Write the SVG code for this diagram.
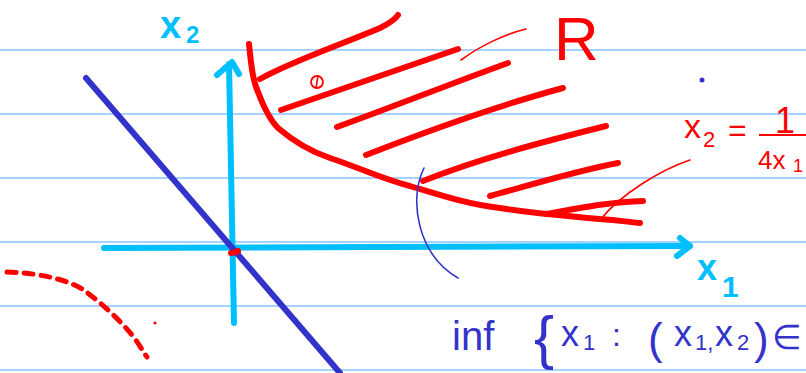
<svg xmlns="http://www.w3.org/2000/svg" width="806" height="373" viewBox="0 0 806 373">
<style>
.rule{stroke:#4da6ff;stroke-width:1.2}
.ax{stroke:#00bfff;stroke-width:6;fill:none;stroke-linecap:round;stroke-linejoin:round}
.hatch{stroke:#ff0000;stroke-width:6;fill:none;stroke-linecap:round;stroke-linejoin:round}
.thinr{stroke:#ff0000;stroke-width:1.6;fill:none;stroke-linecap:round}
.ind{stroke:#3333cc;fill:none;stroke-linecap:round}
.tc{font-family:"Liberation Sans",Arial,sans-serif;fill:#00bfff;font-weight:bold}
.tr{font-family:"Liberation Sans",Arial,sans-serif;fill:#ff0000}
.tb{font-family:"Liberation Sans",Arial,sans-serif;fill:#3333cc}
</style>
<rect width="806" height="373" fill="#ffffff"/>
<g id="rules">
<line class="rule" x1="0" y1="50" x2="806" y2="50"/>
<line class="rule" x1="0" y1="114" x2="806" y2="114"/>
<line class="rule" x1="0" y1="178" x2="806" y2="178"/>
<line class="rule" x1="0" y1="242" x2="806" y2="242"/>
<line class="rule" x1="0" y1="306" x2="806" y2="306"/>
<line class="rule" x1="0" y1="370" x2="806" y2="370"/>
</g>
<g id="axes">
<path class="ax" d="M234,323 L229,64"/>
<path class="ax" d="M217,75 L232,62 L239,74"/>
<path class="ax" d="M104,248 L690,246"/>
<path class="ax" d="M680,238 L690,246 L677,256"/>
<text class="tc" x="160" y="38" font-size="38">x</text>
<text class="tc" x="186" y="43" font-size="24">2</text>
<text class="tc" x="697" y="280" font-size="36">x</text>
<text class="tc" x="722" y="297" font-size="30">1</text>
</g>
<g id="line">
<path class="ind" stroke-width="6" d="M86,78 L340,373"/>
</g>
<g id="region">
<path class="hatch" d="M249,44 C251,62 252,78 258,92 C264,108 270,120 278,128 C292,140 312,152 330,158 C360,168 385,180 410,186 C440,195 470,205 500,208 C540,214 570,216 600,219 C615,220 630,222 640,223"/>
<path class="hatch" d="M546,214 C580,208 610,202 643,201"/>
<path class="hatch" d="M260,79 C290,62 340,45 380,28 C388,24 395,20 398,15"/>
<path class="hatch" d="M281,110 L458,49"/>
<path class="hatch" d="M337,127 C390,108 450,84 508,63"/>
<path class="hatch" d="M366,155 C430,130 500,105 563,88"/>
<path class="hatch" d="M423,181 C480,158 550,140 606,126"/>
<path class="hatch" d="M490,196 C530,185 580,170 618,163"/>
<circle cx="317" cy="82" r="6" fill="none" stroke="#ff0000" stroke-width="1.8"/>
<path class="thinr" d="M318,76 L316,88"/>
<path class="thinr" d="M461,60 C480,46 505,34 526,29"/>
<path class="thinr" d="M690,160 C660,170 620,195 601,219"/>
<path class="hatch" stroke-width="2.5" d="M231,253 C234,253 236,252 238,251"/>
<text class="tr" x="554" y="60" font-size="62">R</text>
</g>
<g id="formula">
<text class="tr" x="684" y="138" font-size="34">x</text>
<text class="tr" x="703" y="147" font-size="22">2</text>
<text class="tr" x="728" y="141" font-size="32">=</text>
<text class="tr" x="775" y="133" font-size="36">1</text>
<line x1="759" y1="135" x2="806" y2="135" stroke="#ff0000" stroke-width="2"/>
<text class="tr" x="758" y="169" font-size="26">4x</text>
<text class="tr" x="793" y="172" font-size="18">1</text>
</g>
<g id="marks">
<circle cx="702" cy="80" r="2.5" fill="#3333cc"/>
<path class="ind" stroke-width="1.6" d="M424,168 C408,200 418,255 458,278"/>
<path d="M7,272 C40,273 70,280 85,291 C100,302 118,318 132,335 C140,345 143,352 147,357" stroke="#ff0000" stroke-width="5" fill="none" stroke-linecap="round" stroke-dasharray="9,8"/>
<circle cx="155" cy="323" r="1.6" fill="#ff0000"/>
</g>
<g id="inf">
<text class="tb" x="452" y="350" font-size="40">inf</text>
<text class="tb" x="534" y="358" font-size="60">{</text>
<text class="tb" x="561" y="346" font-size="36">x</text>
<text class="tb" x="583" y="350" font-size="22">1</text>
<text class="tb" x="612" y="346" font-size="32">:</text>
<text class="tb" x="648" y="354" font-size="44">(</text>
<text class="tb" x="674" y="346" font-size="36">x</text>
<text class="tb" x="695" y="350" font-size="22">1,</text>
<text class="tb" x="715" y="346" font-size="36">x</text>
<text class="tb" x="737" y="350" font-size="22">2</text>
<text class="tb" x="754" y="354" font-size="44">)</text>
<text class="tb" x="772" y="349" font-size="34">∈</text>
</g>
</svg>
